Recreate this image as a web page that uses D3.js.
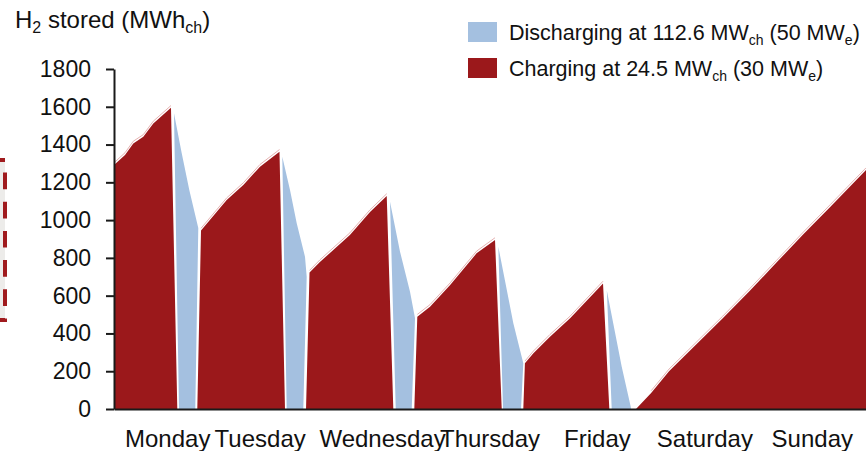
<!DOCTYPE html>
<html>
<head>
<meta charset="utf-8">
<script src="https://cdnjs.cloudflare.com/ajax/libs/d3/7.8.5/d3.min.js"></script>
<style>
  body { margin: 0; background: #fff; }
  svg { display: block; font-family: Arial, "Liberation Sans", sans-serif; }
</style>
</head>
<body>
<script>
// hours since Monday 00:00 -> H2 stored (MWh_ch)
var charging = [
  [0, 1292], [2.46, 1345], [4.31, 1406], [6.55, 1441], [8.78, 1512], [12.73, 1595], [14.14, 0],
  [18.61, 0], [19.44, 945], [25.18, 1106], [28.89, 1186], [32.62, 1283], [36.97, 1362], [38.2, 0],
  [42.9, 0], [43.68, 722], [46.0, 778], [52.7, 921], [57.2, 1043], [60.93, 1128], [62.4, 0],
  [67.09, 0], [67.76, 489], [70.6, 541], [75.1, 656], [81.0, 824], [85.12, 895], [86.62, 0],
  [91.44, 0], [91.8, 242], [93.7, 295], [97.4, 383], [101.9, 480], [109.25, 665], [110.66, 0],
  [116.62, 0], [120, 85], [124, 200], [130, 340], [136, 480], [142, 625], [148, 775], [154, 925], [160, 1070], [168, 1265]
];

var discharging = [
  [14.52, 0], [13.4, 1566], [15.12, 1355], [16.82, 1159], [18.83, 958], [18.16, 0],
  [38.58, 0], [37.6, 1336], [39.32, 1159], [40.82, 983], [42.67, 806], [43.05, 700], [42.29, 0],
  [62.94, 0], [61.66, 1097], [63.9, 833], [66.13, 621], [67.25, 480], [66.51, 0],
  [86.91, 0], [85.86, 859], [89.21, 454], [91.44, 242], [90.93, 0],
  [111.19, 0], [110.1, 628], [113.43, 224], [115.44, 12], [115.5, 0]
];

var days = ["Monday", "Tuesday", "Wednesday", "Thursday", "Friday", "Saturday", "Sunday"];
var yTicks = [0, 200, 400, 600, 800, 1000, 1200, 1400, 1600, 1800];

// text parts, second value 1 = subscript
var titleParts = [["H", 0], ["2", 1], [" stored (MWh", 0], ["ch", 1], [")", 0]];
var legendLabels = [
  [["Discharging at 112.6 MW", 0], ["ch", 1], [" (50 MW", 0], ["e", 1], [")", 0]],
  [["Charging at 24.5 MW", 0], ["ch", 1], [" (30 MW", 0], ["e", 1], [")", 0]]
];

var red = "#9b181b";
var blue = "#a4c0e0";

var svgWidth = 866;
var svgHeight = 451;

var svg = d3.select("body")
  .append("svg")
  .attr("width", svgWidth)
  .attr("height", svgHeight);

svg.append("rect")
  .attr("width", svgWidth)
  .attr("height", svgHeight)
  .attr("fill", "#fff");

// edge of the neighbouring panel, cut off at the left
svg.append("rect")
  .attr("x", -10)
  .attr("y", 160)
  .attr("width", 15)
  .attr("height", 160)
  .attr("fill", "#edecea");
svg.append("path")
  .attr("d", "M-2,160H5V320H-2")
  .attr("fill", "none")
  .attr("stroke", "#a01b1e")
  .attr("stroke-width", 4)
  .attr("stroke-dasharray", "16.7,12.5")
  .attr("stroke-dashoffset", 9.7);

var x = d3.scaleLinear()
  .domain([0, 168])
  .range([114, 866]);

var y = d3.scaleLinear()
  .domain([0, 1800])
  .range([409, 69]);

var area = d3.area()
  .x(function (d) { return x(d[0]); })
  .y0(y(0))
  .y1(function (d) { return y(d[1]); });

svg.append("path")
  .datum(discharging)
  .attr("d", area)
  .attr("fill", blue);

svg.append("path")
  .datum(charging)
  .attr("d", area)
  .attr("fill", red);

// faint outline over the charging tops
var topLine = d3.line()
  .defined(function (d) { return d[1] > 0; })
  .x(function (d) { return x(d[0]); })
  .y(function (d) { return y(d[1]); });

svg.append("path")
  .datum(charging)
  .attr("d", topLine)
  .attr("transform", "translate(0,-2.2)")
  .attr("fill", "none")
  .attr("stroke", "#e6b2b2")
  .attr("stroke-width", 1);

// Y axis
var yAxis = svg.append("g")
  .attr("transform", "translate(114,0)")
  .call(d3.axisLeft(y).tickValues(yTicks).tickFormat(d3.format("d"))
    .tickSize(8).tickPadding(15).tickSizeOuter(0));
yAxis.selectAll("line, path").attr("stroke", "#1a1a1a").attr("stroke-width", 2);
yAxis.selectAll("text")
  .attr("fill", "#111")
  .style("font-size", "23px")
  .style("font-family", "Arial, 'Liberation Sans', sans-serif");

// X axis with day names
var dayScale = d3.scaleBand()
  .domain(days)
  .range([114, 866]);

var xAxis = svg.append("g")
  .attr("transform", "translate(0,409)")
  .call(d3.axisBottom(dayScale).tickSize(0).tickPadding(21).tickSizeOuter(0));
xAxis.select(".domain").attr("stroke", "#1a1a1a").attr("stroke-width", 2);
xAxis.selectAll("text")
  .attr("fill", "#111")
  .attr("dx", function (d) { return d === "Tuesday" ? -15 : 0; })
  .style("font-size", "24px")
  .style("font-family", "Arial, 'Liberation Sans', sans-serif");

function addParts(textSel, parts, subSize, shift) {
  var lowered = false;
  parts.forEach(function (p) {
    var t = textSel.append("tspan").text(p[0]);
    if (p[1] && !lowered) { t.attr("dy", shift).style("font-size", subSize); lowered = true; }
    else if (p[1]) { t.style("font-size", subSize); }
    else if (lowered) { t.attr("dy", -shift); lowered = false; }
  });
}

// axis title
var title = svg.append("text")
  .attr("x", 15)
  .attr("y", 28)
  .attr("fill", "#111")
  .style("font-size", "24px");
addParts(title, titleParts, "16px", 5);

// legend
var legend = svg.append("g");
legendLabels.forEach(function (parts, i) {
  legend.append("rect")
    .attr("x", 468)
    .attr("y", 22 + i * 36)
    .attr("width", 29)
    .attr("height", 20)
    .attr("fill", i === 0 ? blue : red);
  var t = legend.append("text")
    .attr("x", 509)
    .attr("y", 40 + i * 36)
    .attr("fill", "#111")
    .style("font-size", "21.5px");
  addParts(t, parts, "14px", 5);
});
</script>
</body>
</html>
